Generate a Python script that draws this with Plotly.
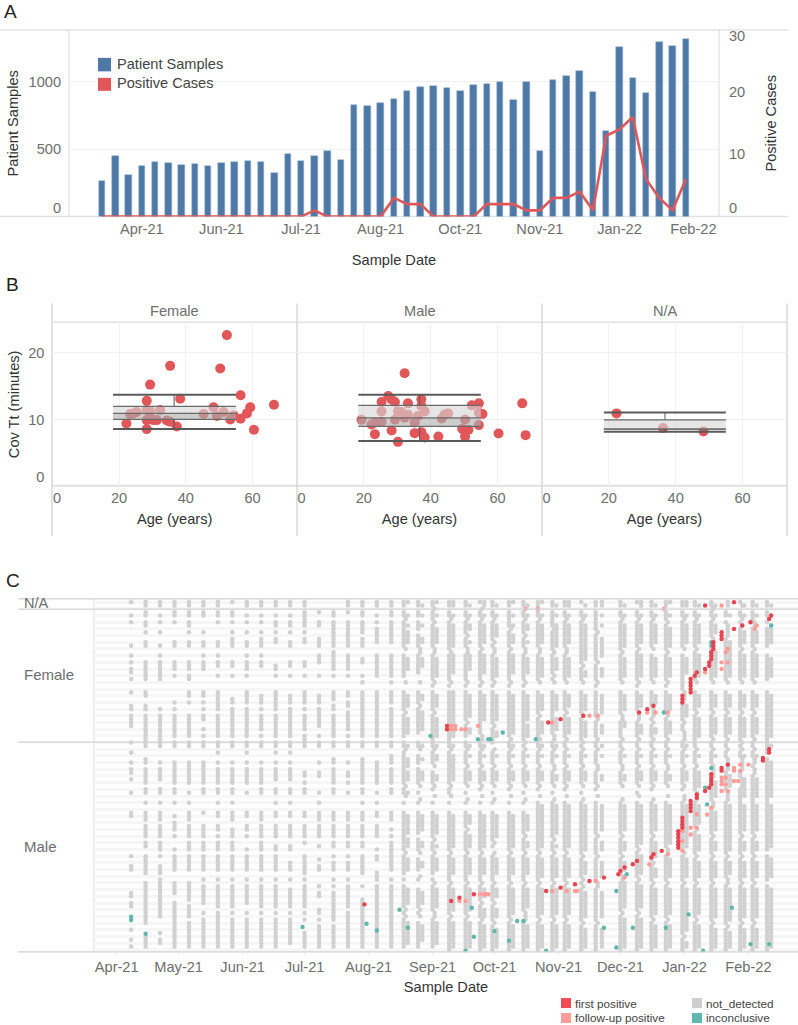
import pandas as pd
import plotly.graph_objects as go

W, H = 798, 1025
FONT = "Liberation Sans"
TICK = "#6e6e6e"
TITLE = "#333333"
RED = "#e15759"
BLUE = "#4e79a7"
EDGE = "#e2e2e2"
GRID = "#f1f1f1"

# ---------------- Panel A ----------------
week_dates = ["2021-04-04","2021-04-11","2021-04-18","2021-04-25","2021-05-02","2021-05-09","2021-05-16","2021-05-23",
              "2021-05-30","2021-06-06","2021-06-13","2021-06-20","2021-06-27","2021-07-04","2021-07-11","2021-07-18",
              "2021-07-25","2021-08-01","2021-08-08","2021-08-15","2021-08-22","2021-08-29","2021-09-05","2021-09-12",
              "2021-09-19","2021-09-26","2021-10-03","2021-10-10","2021-10-17","2021-10-24","2021-10-31","2021-11-07",
              "2021-11-14","2021-11-21","2021-11-28","2021-12-05","2021-12-12","2021-12-19","2021-12-26","2022-01-02",
              "2022-01-09","2022-01-16","2022-01-23","2022-01-30","2022-02-06"]
patient_samples = [267,452,311,375,402,395,380,388,375,395,402,410,402,323,467,410,452,486,422,832,820,847,874,
                   933,960,968,953,933,975,983,998,869,1002,486,1017,1044,1081,926,635,1259,1032,919,1294,1267,1321]
positive_cases = [0,0,0,0,0,0,0,0,0,0,0,0,0,0,0,0,1,0,0,0,0,0,3,
                  2,2,0,0,0,0,2,2,2,1,1,3,3,4,1,13,14,16,6,3,1,6]
a_tick_dates = ["2021-04-25","2021-06-06","2021-07-18","2021-08-29","2021-10-10","2021-11-21","2022-01-02","2022-02-10"]
a_tick_text = ["Apr-21","Jun-21","Jul-21","Aug-21","Oct-21","Nov-21","Jan-22","Feb-22"]

# ---------------- Panel B ----------------
female_age = [52.3,35.3,50.3,29.3,56.4,28.3,38.3,66.4,59.3,58.3,48.3,32.3,28.3,29.3,25.3,23.3,24.3,45.3,51.3,49.3,54.3,56.4,53.3,31.3,28.3,30.3,34.3,35.3,22.2,37.3,28.3,60.4]
female_tt = [22.6,18.0,17.6,15.2,13.6,12.8,13.1,12.2,11.8,10.9,11.8,11.4,11.4,11.2,11.1,10.8,10.9,10.8,11.1,10.5,10.6,10.1,10.0,9.9,9.9,9.9,9.85,9.65,9.4,8.95,8.55,8.45]
male_age = [32.2,27.3,28.3,29.3,25.3,37.2,37.2,33.2,52.3,54.4,67.4,55.5,54.4,25.3,30.2,31.2,33.2,38.2,36.2,45.2,44.2,43.3,32.2,50.3,29.3,19.3,25.3,23.3,22.3,35.2,54.4,49.4,51.3,28.3,35.2,37.2,23.3,50.3,38.2,42.3,60.3,68.4,30.2,50.1]
male_tt = [16.9,13.5,13.0,12.6,12.6,13.0,12.0,12.4,12.1,12.4,12.4,10.8,11.0,11.2,11.2,11.1,10.7,11.2,10.5,10.9,10.75,10.15,10.25,10.0,9.95,9.95,9.65,9.55,9.25,9.55,9.15,8.6,8.45,8.35,7.95,8.1,7.8,7.4,7.3,7.45,7.9,7.65,6.65,8.3]
na_age = [22.3,36.2,48.3]
na_tt = [10.9,8.7,8.2]
# low whisker, q1, median, q3, high whisker, age min, age max, age centre
female_box = [8.55,10.0,10.9,11.94,13.7,18.2,55.0,36.5]
male_box = [6.76,8.95,10.24,12.09,13.7,18.35,55.0,36.7]
na_box = [8.15,8.55,8.55,9.94,11.04,18.5,55.0,36.8]

# ---------------- Panel C ----------------
# (days since 2021-04-01, rows holding a not_detected sample)
early_columns = [
 (7,"1,5,7,14,17,19,21,22,24,28,32,33,35-38,43,46,49,51,52,54,58,64,65,77,80,81,88,89,91,92,99,102,104"),
 (14,"1,2,4,5,7,8,10,13,14,19-24,28,29,32,33,35-42,43,44,48,49,51-55,57,58,61,64-66,68-71,73,74,77-82,85-96,97,101-104"),
 (21,"1,2,5,7,10,14,17,19-24,33,35-42,43,44,49,51-54,57,58,61,64-66,68-71,73-75,77,80-82,84-95,100,102,103"),
 (28,"1,2,4,5,7,13,14,19-21,23,31,33,35-41,43,44,49,50-55,57,58,61,65,67-69,71,75,77-81,85-88,91-104"),
 (35,"1,2,4,5,7,8,10,13,14,19-21,23,24,28,29,31,35-41,43,44,49,50-55,58,61,64-66,68-71,73-75,77-81,85-90,92-95,97-104"),
 (42,"1,2,4,5,10,13,14,17,19-21,28,29,31,33,35,36,39,41,43,44,49,50-55,57,58,64,68-71,73-75,77-81,84,86-91,94,96-104"),
 (49,"1,2,4,5,7,13,14,17,19,20,23,28-33,35-41,43,44,46,49,51-55,57,58,61,64,65,68,69,71,73-75,77-81,84,86-92,94-104"),
 (56,"1,4,5,7,10,12-14,19,20,23,30,31,33-41,43,44,49,51-55,57,58,61,64-66,69-71,73-75,77-81,84,86-92,94,96-104"),
 (63,"1,2,5,7,10,13,14,17,19-21,23,28-31,33-41,43,44,46,49,51-55,58,64,65,68,69,71,75,77-81,84,86-91,94,96-104"),
 (70,"1,2,5,7,10,12-14,17,19,20,29-31,33,35-39,41,43,44,49,51-55,57,58,64-66,68-71,73-75,77-81,84,86-92,94,96-104"),
 (77,"1,2,5,7,8,10,12,13,20,21,23,28-33,35-41,43,44,46,49,51-54,57,58,61,64,65,68-71,74,75,77-81,84,86-92,94,96-104"),
 (84,"1,2,5,7,8,10,13,14,19,20,23,29-31,33-41,43,44,46,49,51-54,57,58,61,64,65,68-71,74,75,79-81,84,87-92,94,96-103"),
 (91,"1,2,4-8,10,12,13,19,20,23,28-31,33,35-39,41-44,52,53,55,57,58,64,65,68-71,73,77-82,84,86-92,94,96,100-104"),
 (98,"4,7,8,12-14,17-19,23,29-31,33-38,41,43,44,49,52,53,58,61,64-66,68-71,74,78,80,81,86,88,89,93,94,96,98-104"),
 (105,"4,5,7-14,16-21,23,28-30,32,33,35-41,43,44,48,49,51-55,57,58,64-66,68-71,73,74,77,79-81,84,86,88-96,98-104"),
 (112,"1,2,4,7-14,17-21,23,28,29,31,32,34-39,41,43,44,49,52,53,55,58,64-66,68-71,73,74,77,79-81,84,86-92,94-104"),
 (119,"1,2,4,5,7-10,12-14,18,19,23,25,28-33,34-41,43,44,48-55,57,58,61,64-66,68-71,73,74,77-82,86,90-96,97-104"),
 (126,"1,2,5,7,9-13,17-23,28-33,34-41,43,44,49-55,58,61,64,65,68-71,75,77,78,82-84,86-91,92-95,96-104"),
 (133,"1,2,4,5,7-13,17-23,25,28-31,33-41,43,44,47-49,51-55,57,58,64-66,69,71,73-75,76-81,84,86-96,97-104"),
]
late_columns = [
 (139,"1,2,4,5,7-14,17-23,28-33,35-41,43,44,46-55,57,58,61,64-75,77-82,84,86-92,94,96-104"),
 (141,"1,5,8,10-13,18-21,29-32,36-40,44,48-50,52-54,58,65-70,72-74,78-81,87-91,97-103"),
 (146,"1,2,4,5,7-9,11-14,17-22,28-31,33-40,43,44,47-49,51-55,58,61,64-70,72-75,78-81,84,87-92,94,97-104"),
 (148,"2,5,8,12,13,18-20,29,30,34-39,44,48,52-54,65-69,73,74,79,80,88-91,98-102"),
 (153,"1,2,4-6,8-14,17-24,26,28-33,35-42,43,44,46-49,52-55,57,61,64-71,73-75,77-82,84,86-93,96-104"),
 (155,"1,5,9-13,18-23,29-32,36-41,44,47,48,53,54,65-70,74,78-81,87-92,97-103"),
 (161,"1,2,4,5,7-15,17-24,26,28-42,43,44,46-55,57,58,61,64-75,77-84,86-94,96-105"),
 (163,"1,2,5,8-14,17-22,28-41,44,47-54,65-74,78-82,87-93,97-104"),
 (169,"1,2,4,5,7-10,12-14,17-24,26,28-36,38-41,43,44,46-49,51-55,58,61,64-68,70-75,77-84,86-94,96-105"),
 (171,"2,5,8,9,13,17-21,29-35,39,40,44,47,52-54,65-67,71-74,78-82,87-93,97-104"),
 (176,"1,4,5,7-14,16-24,26,28-40,43,44,46-49,51-55,57,61,64-75,77-84,86-90,92-95,97-105"),
 (178,"1,2,5,8-13,17-22,29-36,44,47,52-54,65-74,78-82,87-89,93-95,98-104"),
 (182,"1,2,4,5,7-12,14,17-24,26,28-37,39-43,46-49,51-55,58,61,64-72,74,77-84,86-90,92-96,98-105"),
 (184,"2,5,8-11,18-23,29-36,40,41,47,52-54,65-71,78-82,87-89,93-95,99-104"),
 (190,"1,2,4-8,10-14,16-24,26,28-41,43,44,46-49,51-55,57,61,64-75,77-84,86-95,97-105"),
 (192,"1,5,8,11-13,17-22,29-40,44,47,52-54,65-74,78-82,87-94,98-104"),
 (197,"1,2,4,5,7-10,12-14,17-24,26,28-42,44,46-49,51-55,58,61,64-70,72-75,77-84,86-93,97-105"),
 (199,"2,5,8,9,13,18-22,29-36,38-41,47,52-54,65-69,73,74,78-82,87-92,98-104"),
 (204,"1,2,4,5,7-14,17-24,28-34,36-41,43,44,46-49,51-55,57,61-75,77-84,86-95,97-105"),
 (206,"1,5,8-13,18-23,29-33,37-40,44,47,52-54,62-74,78-83,87-94,98-104"),
 (211,"1,2,4-8,10-15,17-22,24,28-40,43,44,46-49,52-55,58,61-71,73-75,77-84,86-95,97-105"),
 (213,"2,5,8-14,18-21,29-33,36-39,44,47,53,54,62-70,74,78-83,87-94,98-104"),
 (217,"1,2,4,5,7-14,17-24,28-33,35-41,43,44,46-49,51-55,57,61-75,77-84,86-95,97-105"),
 (219,"1,2,5,8-13,18-23,29-32,36-40,47,52-54,62-74,78-83,87-94,98-104"),
 (225,"1,4,5,7-19,21-24,28-34,36-42,44,46-49,51-55,58,61-76,78-83,85,87-96,98-105"),
 (227,"2,5,8-18,22,23,29-33,37-41,47,52-54,62-75,79-82,88-95,99-104"),
 (232,"1,2,4-9,11-18,20-24,26,28-35,37-41,43,44,46-49,52-55,57,61-70,72-76,78-84,87-96,98-105"),
 (235,"1,2,5,8,12-17,21-23,29-34,38-40,44,47,53,54,62-69,73-75,79-83,88-95,99-104"),
 (244,"1,2,4,5,7-15,17-24,28-34,37-41,43,44,46-49,52-55,61-70,72-76,78-82,85-93,95-105"),
 (246,"2,5,8-14,18-23,29-33,37,38,47,53,54,62-69,73-75,79-81,85-92,96-104"),
 (252,"1,4,5,7-14,16-24,26,28-33,37-41,43,44,46-49,51-55,58,61-74,76-83,85-93,95-105"),
 (254,"1,2,5,8-13,17-23,29-32,38-40,47,52-54,62-73,77-82,86-92,96-104"),
 (259,"1,2,4,5,7-14,17-24,28-32,36,38-41,43,44,46-49,51-55,57,61-70,72-78,80-84,86-95,97-105"),
 (261,"2,5,8-13,18-23,29-31,39,40,47,52-54,62-69,73-77,81-83,87-94,98-104"),
 (266,"1,2,4-6,8-15,17-24,26,28-34,36-41,43,44,46-49,52-55,61-74,77-84,86-95,97-105"),
 (268,"1,5,9-14,18-23,29-33,37-40,47,53,54,62-73,78-83,87-94,98-104"),
 (274,"1,2,4,5,7-14,17-27,31-36,38,39,43,44,46-49,51-55,57,61-75,77-84,86-100,102-105"),
 (276,"1,2,5,8-13,18-22,32-35,44,47,52-54,62-74,78-83,87-99,103,104"),
 (280,"1,2,4,5,7-14,16-24,28-33,35-43,44,46-49,51-57,61-68,70-76,78-84,86-95,97-105"),
 (282,"2,5,8-13,17-23,29-32,36-41,47,52-56,62-67,71-75,79-83,87-94,98-104"),
 (288,"1,2,4,5,7-11,15-24,28-33,35-41,43,44,46-49,54-60,63-70,72-76,78-84,86-96,98-105"),
 (290,"2,5,8-10,16-23,29-32,36-40,47,55-59,64-69,73-75,79-83,87-95,99-104"),
 (295,"4,5,7,12-24,28-33,35-41,43,44,46,47,52-57,61-76,78-83,86-97,99-105"),
 (297,"5,13-23,29-32,36-40,53-56,62-75,79-82,87-96,100-104"),
 (302,"1,4,5,7,9-14,16-24,28-33,35-42,44,46,47,52,53,57-70,72-76,78-84,86-96,98-105"),
 (304,"2,5,10-13,17-23,29-32,36-41,47,54-59,62-69,73-75,79-83,87-95,99-104"),
 (308,"1,2,4-6,9-14,16-24,28-33,35-41,43,44,46,47,50,53-70,72-76,78-84,86-96,98-105"),
 (310,"2,5,10-13,17-23,29-32,36-40,47,54-59,62-69,73-75,79-83,87-95,99-104"),
 (315,"1,2,4,5,7,9-14,17-24,28-46,48-75,77-84,86-105"),
 (317,"2,5,8-13,18-23,29-41,44,49-59,62-74,78-83,87-104"),
 # samples taken on a third weekday, filling the gaps between the main runs
 (140,"6,15,25,34,45,56,59,76,93,95"),(147,"15,16,25,32,45,56,60,76,83,93,95"),(154,"3,7,15,16,25,34,45,50,56,59,72,76,85,94,95"),
 (162,"6,16,25,45,50,56,59,76,85,95"),(170,"6,11,15,16,25,37,45,50,56,60,69,76,85,95"),(177,"3,6,15,25,41,42,45,50,56,59,76,85,91,96"),
 (183,"6,13,15,16,25,38,45,50,56,60,73,76,85,91,97"),(191,"9,15,25,42,45,50,56,59,76,85,96"),(198,"6,11,15,16,25,43,45,50,56,60,71,76,85,94,95,96"),
 (205,"6,15,16,25,35,42,45,50,56,59,76,85,96"),(212,"9,16,23,25,41,42,45,50,51,56,60,72,76,85,96"),(218,"6,15,16,25,34,42,45,50,56,59,76,85,96"),
 (226,"6,20,25,35,43,45,50,56,60,77,84,86,97"),(233,"10,19,25,36,42,45,50,51,56,59,71,77,85,86,97"),(245,"6,16,25,35,36,42,45,50,51,56,60,71,77,83,84,94"),
 (253,"6,15,25,34-36,42,45,50,56,59,75,84,94"),(260,"6,15,25,33-35,37,42,45,50,56,60,71,79,85,96"),(267,"7,16,25,35,42,45,50,51,56,59,75,76,85,96"),
 (275,"6,15,28-30,37,40-42,45,50,56,59,60,76,85,101"),(281,"6,15,25,34,45,50,58-60,69,77,85,96"),(289,"3,6,12-14,25,34,42,45,50-53,61,62,71,77,85,97"),
 (296,"1,2,8-11,25,34,42,45,48-51,58-60,77,84,85,98"),(303,"2,6,8,15,25,34,43,45,48-51,54-56,71,77,85,97"),(309,"7,8,15,25,34,42,45,48,49,51,52,71,77,85,97"),
]
first_day = [285,299,317,316,307,303,299,293,293,293,289,289,289,288,288,288,287,287,285,281,280,278,278,278,278,278,274,274,274,260,257,253,226,215,209,160,160,
             316,316,313,313,296,293,293,288,288,288,288,287,285,281,281,278,278,278,278,274,274,274,274,272,272,272,272,272,272,264,260,259,252,250,246,244,243,236,229,222,215,208,173,166,162,120]
first_row = [2,1,5,6,7,8,9,10,11,12,13,14,15,16,17,18,19,20,21,22,23,24,25,26,27,28,29,30,31,32,33,34,35,36,37,38,39,
             45,46,47.6,48.4,49.6,50.6,51.4,52.5,53.5,54.5,55.5,56.5,57.5,58.5,59.5,60.5,61.5,62.5,63.5,65.5,66.5,67.5,68.5,69.5,70.5,71.5,72.5,73.5,74.5,75.4,76.4,77.4,78.4,79.4,80.4,81.4,82.4,83.4,84.4,85.4,86.4,87.4,88.4,89.4,90.4,91.4]
follow_day = [198,204,265,293,296,295,293,296,293,285,310,309,257,261,267,229,233,211,162,164,162,164,167,169,175,
              302,306,299,302,299,293,293,293,295,299,301,295,293,296,288,281,286,278,281,274,274,278,274,267,258,246,232,211,218,222,223,176,178,179,180,166,169]
follow_row = [3,3,3,2,15,16,19,19,21,22,8,9,34,34,34,35,35,37,38,38,39,39,39,39,38,
              49.6,49.6,50.6,51.4,51.4,53.5,54.5,55.5,53.5,54.5,54.5,55.5,57.5,57.5,62.5,64.5,64.5,68.5,68.5,69.5,72.5,70.5,75.4,76.4,79.4,83.4,84.4,87.4,87.4,87.4,87.4,88.4,88.4,88.4,88.4,90.4,90.4]
incon_day = [288,288,265,317,152,175,180,181,187,203,288,285,286,247,242,172,298,277,194,197,141,236,250,266,183,173,190,307,316,242,169,208,284,7,7,14,90,121,126,137]
incon_row = [13,14,34,8,41,42,42,42,40,42,50.6,56.5,61.5,82.4,87.4,92.4,92.4,94.4,96.4,96.4,98.4,98.4,98.4,98.4,99.4,101.1,102.3,103.3,103.3,104.3,105.3,105.3,105.3,95.1,96.1,100.2,98.2,97.2,99.2,93]
c_month_ticks = ["2021-04-01","2021-05-01","2021-06-01","2021-07-01","2021-08-01","2021-09-01","2021-10-01","2021-11-01","2021-12-01","2022-01-01","2022-02-01"]
c_month_text = ["Apr-21","May-21","Jun-21","Jul-21","Aug-21","Sep-21","Oct-21","Nov-21","Dec-21","Jan-22","Feb-22"]
stripe_rows = list(range(1, 106, 2))


def expand(spec):
    rows = []
    for part in spec.split(","):
        if "-" in part:
            a, b = part.split("-")
            rows.extend(range(int(a), int(b) + 1))
        else:
            rows.append(int(part))
    return rows


def to_date(days):
    base = pd.Timestamp("2021-04-01")
    return [(base + pd.Timedelta(days=float(d))).strftime("%Y-%m-%d %H:%M") for d in days]


def xd(a, b):
    return [a / W, b / W]


def yd(top, bottom):
    return [1 - bottom / H, 1 - top / H]


fig = go.Figure()

# Panel A traces
fig.add_trace(go.Bar(x=week_dates, y=patient_samples, width=[296e6] * len(week_dates), xaxis="x", yaxis="y",
                     marker=dict(color=BLUE, line=dict(color="#8fb0cf", width=0.5)), name="Patient Samples"))
fig.add_trace(go.Scatter(x=week_dates, y=positive_cases, xaxis="x", yaxis="y2", mode="lines",
                         line=dict(color=RED, width=2.6), name="Positive Cases"))

# Panel B traces
panels = [("x2", "y3", female_age, female_tt, female_box),
          ("x3", "y4", male_age, male_tt, male_box),
          ("x4", "y5", na_age, na_tt, na_box)]
for xa, ya, ages, tts, box in panels:
    low, q1, med, q3, high, lo, hi, mid = box
    fig.add_trace(go.Scatter(x=ages, y=tts, xaxis=xa, yaxis=ya, mode="markers",
                             marker=dict(color=RED, size=10), cliponaxis=False))
    fig.add_trace(go.Scatter(x=[lo, hi, hi, lo, lo], y=[med, med, q3, q3, med], xaxis=xa, yaxis=ya, mode="lines",
                             fill="toself", fillcolor="rgba(215,215,215,0.62)", line=dict(width=0)))
    fig.add_trace(go.Scatter(x=[lo, hi, hi, lo, lo], y=[q1, q1, med, med, q1], xaxis=xa, yaxis=ya, mode="lines",
                             fill="toself", fillcolor="rgba(175,175,175,0.62)", line=dict(width=0)))
    fig.add_trace(go.Scatter(x=[lo, hi, None, lo, hi, None, lo, hi], y=[q1, q1, None, med, med, None, q3, q3],
                             xaxis=xa, yaxis=ya, mode="lines", line=dict(color="#6a6a6a", width=1.2)))
    fig.add_trace(go.Scatter(x=[lo, hi, None, lo, hi], y=[low, low, None, high, high], xaxis=xa, yaxis=ya,
                             mode="lines", line=dict(color="#5a5a5a", width=2)))
    fig.add_trace(go.Scatter(x=[mid, mid, None, mid, mid], y=[q3, high, None, low, q1], xaxis=xa, yaxis=ya,
                             mode="lines", line=dict(color="#5a5a5a", width=1)))

# Panel C traces
gx, gy = [], []
for day, spec in early_columns + late_columns:
    rows = expand(spec)
    gx.extend([day] * len(rows))
    gy.extend(rows)
fig.add_trace(go.Scatter(x=to_date(gx), y=gy, xaxis="x5", yaxis="y6", mode="markers",
                         marker=dict(color="#d1d1d1", size=4.6), name="not_detected"))
fig.add_trace(go.Scatter(x=to_date(incon_day), y=incon_row, xaxis="x5", yaxis="y6", mode="markers",
                         marker=dict(color="#5fb8ad", size=4.4), name="inconclusive"))
fig.add_trace(go.Scatter(x=to_date(follow_day), y=follow_row, xaxis="x5", yaxis="y6", mode="markers",
                         marker=dict(color="#ff9d9a", size=4.4), name="follow-up positive"))
fig.add_trace(go.Scatter(x=to_date(first_day), y=first_row, xaxis="x5", yaxis="y6", mode="markers",
                         marker=dict(color="#e8434f", size=4.4), name="first positive"))


def axis_font():
    return dict(family=FONT, size=14.6, color=TICK)


def title(text, standoff):
    return dict(text=text, font=dict(family=FONT, size=14.6, color=TITLE), standoff=standoff)


layout = dict(
    width=W, height=H, autosize=False, margin=dict(l=0, r=0, t=0, b=0),
    paper_bgcolor="white", plot_bgcolor="rgba(0,0,0,0)", showlegend=False, bargap=0,
    font=dict(family=FONT, size=14.6, color=TICK),
    xaxis=dict(domain=xd(69, 719), anchor="y", type="date", range=["2021-03-17 14:00", "2022-02-23 12:00"],
               tickmode="array", tickvals=a_tick_dates, ticktext=a_tick_text, tickfont=axis_font(), showgrid=False,
               ticks="", ticklabelstandoff=2, zeroline=False, title=title("Sample Date", 18)),
    yaxis=dict(domain=yd(28, 215), anchor="x", range=[0, 1385], tickmode="array", tickvals=[65, 500, 1000],
               ticktext=["0", "500", "1000"], tickfont=axis_font(), showgrid=False, zeroline=False,
               ticks="outside", ticklen=4, tickcolor="rgba(0,0,0,0)",
               minor=dict(tickvals=[500, 1000], showgrid=True, gridcolor=GRID, gridwidth=1, ticks=""),
               title=title("Patient Samples", 6)),
    yaxis2=dict(domain=yd(28, 215), anchor="x", overlaying="y", side="right", range=[0, 30], tickmode="array",
                tickvals=[1.4, 10, 20, 29.1], ticktext=["0", "10", "20", "30"], tickfont=axis_font(), showgrid=False,
                zeroline=False, ticks="outside", ticklen=6, tickcolor="rgba(0,0,0,0)",
                title=title("Positive Cases", 21)),
)

b_domains = [(52.3, 297.0), (297.0, 542.0), (542.0, 787.0)]
for i, (a, b) in enumerate(b_domains):
    xn = f"xaxis{i + 2}"
    yn = f"yaxis{i + 3}"
    layout[xn] = dict(domain=xd(a, b), anchor=f"y{i + 3}", range=[0, 73.3], tickmode="array", tickvals=[1.4, 20, 40, 60],
                      ticktext=["0", "20", "40", "60"], tickfont=axis_font(), showgrid=False, zeroline=False,
                      ticks="", ticklabelstandoff=1,
                      minor=dict(tickvals=[20, 40, 60], showgrid=True, gridcolor=GRID, gridwidth=1, ticks=""),
                      title=title("Age (years)", 8))
    y_extra = dict(tickvals=[1.4, 10, 20], ticktext=["0", "10", "20"], tickfont=axis_font(), ticks="outside", ticklen=4,
                   tickcolor="rgba(0,0,0,0)", title=title("Cov Tt (minutes)", 5)) if i == 0 else dict(showticklabels=False, tickvals=[])
    layout[yn] = dict(domain=yd(321, 485.3), anchor=f"x{i + 2}", range=[0, 24.5], tickmode="array", showgrid=False, zeroline=False,
                      minor=dict(tickvals=[10, 20], showgrid=True, gridcolor=GRID, gridwidth=1, ticks=""), **y_extra)

layout["xaxis5"] = dict(domain=xd(94, 798), anchor="y6", type="date", range=["2021-03-21", "2022-02-25"], tickmode="array",
                        tickvals=c_month_ticks, ticktext=c_month_text, tickfont=axis_font(), showgrid=False, zeroline=False,
                        ticks="outside", ticklen=2, tickcolor="#e8e8e8", ticklabelstandoff=-1, title=title("Sample Date", 8))
layout["yaxis6"] = dict(domain=yd(598, 952), anchor="x5", range=[105.7, 0], tickmode="array", tickvals=stripe_rows,
                        showticklabels=False, showgrid=True, gridcolor="#f6f6f6", gridwidth=3.35, zeroline=False)


def hline(y, x0, x1, color=EDGE, width=1.5):
    return dict(type="line", xref="paper", yref="paper", x0=x0 / W, x1=x1 / W, y0=1 - y / H, y1=1 - y / H,
                line=dict(color=color, width=width), layer="below")


def vline(x, y0, y1, color=EDGE, width=1.3):
    return dict(type="line", xref="paper", yref="paper", x0=x / W, x1=x / W, y0=1 - y0 / H, y1=1 - y1 / H,
                line=dict(color=color, width=width), layer="below")


def swatch(x0, y0, x1, y1, color):
    return dict(type="rect", xref="paper", yref="paper", x0=x0 / W, x1=x1 / W, y0=1 - y0 / H, y1=1 - y1 / H,
                fillcolor=color, line=dict(width=0))


shapes = [hline(28, 0, 788), hline(215, 0, 788), vline(69, 28, 215), vline(719, 28, 215),
          hline(321, 52, 787), hline(484.8, 52, 787, width=2),
          vline(52, 302, 535, "#d2d2d2"), vline(297, 302, 535, "#d2d2d2"), vline(542, 302, 535, "#d2d2d2"), vline(787, 302, 535, "#d2d2d2"),
          vline(94, 598, 952, "#e4e4e4")]
shapes_top = [dict(hline(y, 18, 798, "#d2d2d2", 1.2), layer="above") for y in (598, 608.3, 741.5, 951.8)]
shapes += shapes_top
shapes += [swatch(98, 56, 111, 69.5, BLUE), swatch(98, 76, 111, 89, "#e15759"),
           swatch(561, 998, 571, 1008, "#f04b55"), swatch(561, 1013, 571, 1023, "#ff9d9a"),
           swatch(692, 998, 702, 1008, "#cfcfcf"), swatch(692, 1013, 702, 1023, "#5fb8ad")]
layout["shapes"] = shapes


def note(text, x, y, size=14.6, color=TITLE, anchor="left", **extra):
    return dict(text=text, xref="paper", yref="paper", x=x / W, y=1 - y / H, xanchor=anchor, yanchor="middle",
                showarrow=False, font=dict(family=FONT, size=size, color=color), **extra)


layout["annotations"] = [
    note("A", 3, 9, 19, "#222222", height=18, borderpad=0), note("B", 4, 283, 19, "#222222"), note("C", 4, 580, 19, "#222222"),
    note("Patient Samples", 115, 62, 14.6, "#444444"), note("Positive Cases", 115, 81.5, 14.6, "#444444"),
    note("Female", 174.6, 310, 14.6, TICK, "center"), note("Male", 420, 310, 14.6, TICK, "center"),
    note("N/A", 665, 310, 14.6, TICK, "center"),
    note("N/A", 22, 602, 14.6, TICK), note("Female", 22, 674, 15, TICK), note("Male", 22, 845.7, 15, TICK),
    note("first positive", 573, 1003, 11.7, "#444444"), note("follow-up positive", 573, 1017.5, 11.7, "#444444"),
    note("not_detected", 704, 1003, 11.7, "#444444"), note("inconclusive", 704, 1017.5, 11.7, "#444444"),
]

fig.update_layout(**layout)
fig.write_html("out.html", config={"displayModeBar": False},
               post_script="document.body.style.margin='0';document.documentElement.style.overflow='hidden';")
